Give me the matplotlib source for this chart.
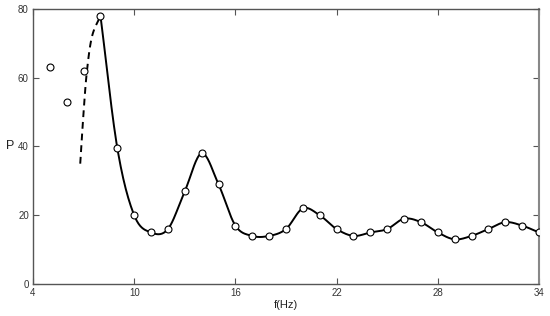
import numpy as np
import matplotlib.pyplot as plt

# Measured points (open circles)
Freq = [5, 6, 7, 8, 9, 10, 11, 12, 13, 14, 15, 16, 17, 18, 19, 20, 21, 22, 23, 24, 25,
        26, 27, 28, 29, 30, 31, 32, 33, 34]
Power = [63, 53, 62, 78, 39.5, 20, 15, 16, 27, 38, 29, 17, 14, 14, 16, 22, 20, 16, 14, 15, 16,
         19, 18, 15, 13, 14, 16, 18, 17, 15]

# Dashed rising branch
DashFreq = [6.8, 7.0, 7.2, 7.5, 8.0]
DashPower = [35, 50, 62, 72, 78]

XTicks = [4, 10, 16, 22, 28, 34]
YTicks = [0, 20, 40, 60, 80]


def CatmullRom(x, y, n=20):
    x = np.asarray(x, float)
    y = np.asarray(y, float)
    px = np.concatenate([[2 * x[0] - x[1]], x, [2 * x[-1] - x[-2]]])
    py = np.concatenate([[2 * y[0] - y[1]], y, [2 * y[-1] - y[-2]]])
    xs, ys = [], []
    t = np.linspace(0, 1, n, endpoint=False)
    for i in range(1, len(px) - 2):
        for p, out in ((px, xs), (py, ys)):
            p0, p1, p2, p3 = p[i - 1], p[i], p[i + 1], p[i + 2]
            out.extend(0.5 * (2 * p1 + (-p0 + p2) * t + (2 * p0 - 5 * p1 + 4 * p2 - p3) * t ** 2
                              + (-p0 + 3 * p1 - 3 * p2 + p3) * t ** 3))
    xs.append(x[-1])
    ys.append(y[-1])
    return np.array(xs), np.array(ys)


plt.rcParams['font.family'] = ['Liberation Sans', 'DejaVu Sans']

fig = plt.figure(figsize=(5.5, 3.16), dpi=100)
ax = fig.add_axes([0.06, 0.101, 0.92, 0.871])

sx, sy = CatmullRom(Freq[3:], Power[3:])
ax.plot(sx, sy, color='black', linewidth=1.4, zorder=2)
dx, dy = CatmullRom(DashFreq, DashPower)
ax.plot(dx, dy, color='black', linewidth=1.4, linestyle=(0, (3.5, 2.5)), zorder=2)
ax.plot(Freq, Power, linestyle='none', marker='o', markersize=5, markerfacecolor='white',
        markeredgecolor='black', markeredgewidth=0.8, zorder=3)

ax.set_xlim(4, 34)
ax.set_ylim(0, 80)
ax.set_xticks(XTicks)
ax.set_yticks(YTicks)
ax.tick_params(direction='in', length=4, width=0.8, color='#555555', labelsize=7,
               labelcolor='#333333', top=True, right=True, pad=3)
for s in ax.spines.values():
    s.set_color('#555555')
    s.set_linewidth(1.0)
ax.spines['right'].set_color('#888888')
ax.spines['right'].set_linewidth(1.5)

ax.set_xlabel('f(Hz)', fontsize=8, labelpad=1, color='#222222')
ax.set_ylabel('P', fontsize=9, rotation=0, va='center', ha='center', color='#222222')
ax.yaxis.set_label_coords(-0.045, 0.5)

fig.savefig('out.png', dpi=100)
